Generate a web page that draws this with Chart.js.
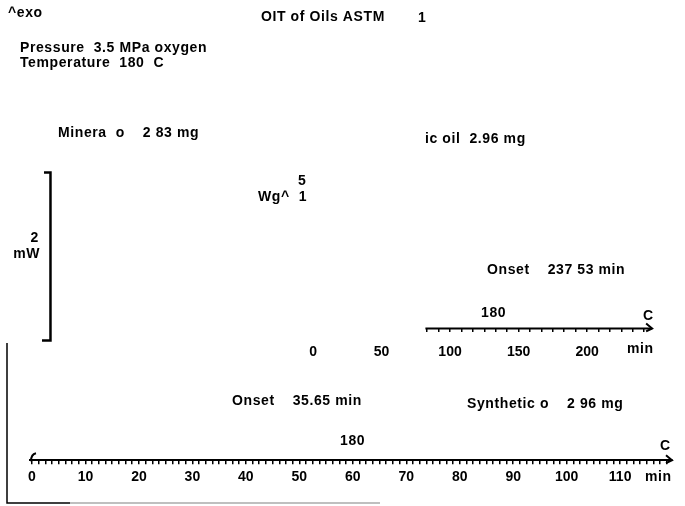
<!DOCTYPE html>
<html>
<head>
<meta charset="utf-8">
<script src="https://cdn.jsdelivr.net/npm/chart.js@4.4.1/dist/chart.umd.min.js"></script>
<style>
  html, body { margin: 0; padding: 0; background: #fff; }
  canvas { display: block; }
</style>
</head>
<body>
<canvas id="oitChart" width="685" height="506"></canvas>
<script>
// lower time axis (synthetic oil run), min
const lowerLabels = [0, 10, 20, 30, 40, 50, 60, 70, 80, 90, 100, 110];
const lowerTickStep = 1.25;
const lowerRange = [-0.37, 119.7];

// upper time axis (mineral oil run), min
const upperLabels = [0, 50, 100, 150, 200];
const upperTickStep = 50 / 6;
const upperRange = [-206.6, 262];
const upperAxisSpan = [82, 247.5];

// signal scale, mW
const signalRange = [0, 5.5];
const upperAxisLevel = 1.575;
const scaleBarX = [2.25, 3.46, 3.46, 1.87];
const scaleBarY = [3.437, 3.437, 1.432, 1.432];

const annotations = [
  ["^exo", 8, 13],
  ["OIT of Oils ASTM", 261, 17],
  ["1", 418, 18],
  ["Pressure  3.5 MPa oxygen", 20, 48],
  ["Temperature  180  C", 20, 63],
  ["Minera  o    2 83 mg", 58, 133],
  ["ic oil  2.96 mg", 425, 139],
  ["5", 298, 181],
  ["Wg^  1", 258, 197],
  ["Onset    237 53 min", 487, 270],
  ["180", 481, 313],
  ["C", 643, 316],
  ["min", 627, 349],
  ["Onset    35.65 min", 232, 401],
  ["Synthetic o    2 96 mg", 467, 404],
  ["180", 340, 441],
  ["C", 660, 446],
  ["min", 645, 477]
];

const FONT = 'bold 14px "Liberation Sans", Arial, sans-serif';
Chart.defaults.font.family = '"Liberation Sans", Arial, sans-serif';
Chart.defaults.font.weight = 'bold';
Chart.defaults.font.size = 14;
Chart.defaults.color = '#000';

function stepTicks(from, to, step) {
  const out = [];
  for (let i = Math.ceil(from / step - 1e-9); i * step <= to + 1e-9; i++) {
    out.push(Math.round(i * step * 1000) / 1000);
  }
  return out;
}

function isLabel(list, v) {
  return list.some(l => Math.abs(l - v) < 1e-6);
}

const decorPlugin = {
  id: 'decor',
  afterDraw(chart) {
    const ctx = chart.ctx;
    const x = chart.scales.x, x2 = chart.scales.x2, y = chart.scales.y;
    ctx.save();
    ctx.strokeStyle = '#000';
    ctx.fillStyle = '#000';
    ctx.lineWidth = 2;

    // arrow heads on both time axes
    const arrows = [
      [x.getPixelForValue(lowerRange[1]), chart.chartArea.bottom],
      [x2.getPixelForValue(upperAxisSpan[1]), y.getPixelForValue(upperAxisLevel)]
    ];
    arrows.forEach(([ax, ay]) => {
      ctx.beginPath();
      ctx.moveTo(ax - 6, ay - 5);
      ctx.lineTo(ax, ay);
      ctx.lineTo(ax - 6, ay + 3);
      ctx.stroke();
    });

    // small hook at the start of the lower axis
    const lx = chart.chartArea.left, ly = chart.chartArea.bottom;
    ctx.beginPath();
    ctx.moveTo(lx + 1, ly + 1);
    ctx.quadraticCurveTo(lx + 1, ly - 6, lx + 6, ly - 7);
    ctx.stroke();

    // left frame
    ctx.lineWidth = 1.5;
    ctx.beginPath();
    ctx.moveTo(7, 343);
    ctx.lineTo(7, 503);
    ctx.lineTo(70, 503);
    ctx.stroke();
    ctx.strokeStyle = '#aaa';
    ctx.beginPath();
    ctx.moveTo(70, 503);
    ctx.lineTo(380, 503);
    ctx.stroke();

    // texts
    ctx.font = FONT;
    ctx.letterSpacing = '0.6px';
    ctx.textBaseline = 'middle';
    ctx.textAlign = 'left';
    annotations.forEach(([t, tx, ty]) => ctx.fillText(t, tx, ty));
    ctx.textAlign = 'right';
    ctx.fillText('2', 39, 238);
    ctx.fillText('mW', 40, 254);
    ctx.restore();
  }
};

new Chart(document.getElementById('oitChart'), {
  type: 'scatter',
  data: {
    datasets: [
      {
        label: 'scale bar',
        data: scaleBarX.map((v, i) => ({ x: v, y: scaleBarY[i] })),
        showLine: true,
        borderColor: '#000',
        borderWidth: 2.5,
        pointRadius: 0,
        xAxisID: 'x',
        yAxisID: 'y'
      },
      {
        label: 'upper axis',
        data: upperAxisSpan.map(v => ({ x: v, y: upperAxisLevel })),
        showLine: true,
        borderColor: '#000',
        borderWidth: 2,
        pointRadius: 0,
        xAxisID: 'x2',
        yAxisID: 'y'
      }
    ]
  },
  options: {
    responsive: false,
    animation: false,
    events: [],
    layout: { padding: { left: 30, right: 13, top: 0, bottom: 15 } },
    plugins: { legend: { display: false }, tooltip: { enabled: false } },
    scales: {
      x: {
        type: 'linear',
        position: 'bottom',
        min: lowerRange[0],
        max: lowerRange[1],
        afterBuildTicks: ax => {
          ax.ticks = stepTicks(0, lowerRange[1], lowerTickStep).map(v => ({ value: v }));
        },
        grid: { drawOnChartArea: false, tickLength: 4, color: '#000', lineWidth: 1.5 },
        border: { display: true, color: '#000', width: 2 },
        ticks: {
          autoSkip: false,
          maxRotation: 0,
          padding: 5,
          callback: v => isLabel(lowerLabels, v) ? String(v) : ''
        }
      },
      x2: {
        type: 'linear',
        axis: 'x',
        position: { y: upperAxisLevel },
        min: upperRange[0],
        max: upperRange[1],
        afterBuildTicks: ax => {
          const vals = stepTicks(upperAxisSpan[0], upperAxisSpan[1] - 4, upperTickStep);
          upperLabels.forEach(l => { if (!isLabel(vals, l)) vals.push(l); });
          vals.sort((a, b) => a - b);
          ax.ticks = vals.map(v => ({ value: v }));
        },
        grid: {
          drawOnChartArea: false,
          tickLength: 4,
          lineWidth: 1.5,
          color: c => (c.tick && c.tick.value >= upperAxisSpan[0]) ? '#000' : 'rgba(0,0,0,0)'
        },
        border: { display: false },
        ticks: {
          autoSkip: false,
          maxRotation: 0,
          padding: 11,
          callback: v => isLabel(upperLabels, v) ? String(v) : ''
        }
      },
      y: {
        type: 'linear',
        display: false,
        min: signalRange[0],
        max: signalRange[1]
      }
    }
  },
  plugins: [decorPlugin]
});
</script>
</body>
</html>
